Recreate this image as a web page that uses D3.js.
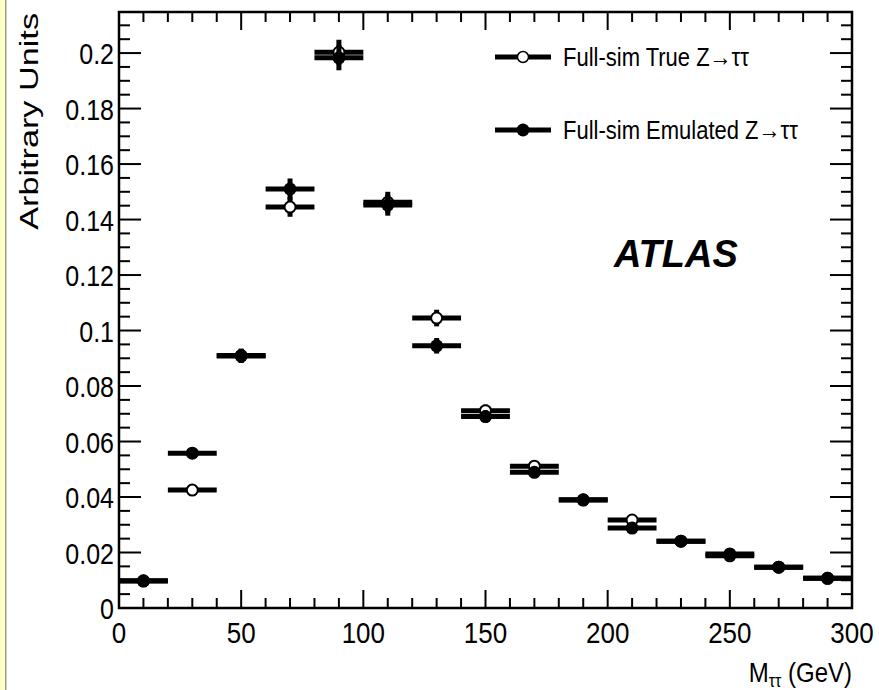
<!DOCTYPE html>
<html lang="en">
<head>
    <style>
        body { margin: 0; background: #fff; }
        text { font-family: "Liberation Sans", Arial, sans-serif; fill: #000; }
    </style>
    <script src="https://d3js.org/d3.v7.min.js"></script>
</head>
<body>
    <svg width="879" height="690"></svg>
    <script>
        // bin centres (GeV), 20 GeV wide bins
        var binCenters = [10, 30, 50, 70, 90, 110, 130, 150, 170, 190, 210, 230, 250, 270, 290];
        var binHalfWidth = 10;

        var trueValues = [0.0098, 0.0425, 0.0910, 0.1445, 0.2003, 0.1462, 0.1045, 0.0711, 0.0511, 0.0390, 0.0317, 0.0241, 0.0188, 0.0147, 0.0107];
        var trueErrors = [0.0008, 0.0018, 0.0025, 0.0035, 0.0045, 0.0038, 0.0030, 0.0022, 0.0018, 0.0015, 0.0013, 0.0011, 0.0010, 0.0008, 0.0007];

        var emuValues = [0.0097, 0.0558, 0.0908, 0.1510, 0.1983, 0.1452, 0.0945, 0.0690, 0.0489, 0.0389, 0.0288, 0.0241, 0.0195, 0.0147, 0.0107];
        var emuErrors = [0.0008, 0.0020, 0.0025, 0.0038, 0.0045, 0.0038, 0.0028, 0.0022, 0.0018, 0.0015, 0.0013, 0.0011, 0.0010, 0.0008, 0.0007];

        var xTicks = [0, 50, 100, 150, 200, 250, 300];
        var yTicks = [0, 0.02, 0.04, 0.06, 0.08, 0.1, 0.12, 0.14, 0.16, 0.18, 0.2];
        var yTickLabels = ["0", "0.02", "0.04", "0.06", "0.08", "0.1", "0.12", "0.14", "0.16", "0.18", "0.2"];

        var svg = d3.select("svg");

        // the picture's text is drawn a little taller than wide
        function addText(parent, px, py, str, size, sy, anchor) {
            return parent.append("g")
                .attr("transform", "translate(" + px + "," + py + ") scale(1," + sy + ")")
                .append("text")
                .attr("text-anchor", anchor || "start")
                .attr("font-size", size + "px")
                .text(str);
        }

        // yellowish strip on the left edge
        svg.append("rect").attr("x", 0).attr("y", 0).attr("width", 5).attr("height", 690).attr("fill", "#ffffc8");
        svg.append("rect").attr("x", 5).attr("y", 0).attr("width", 1.5).attr("height", 690).attr("fill", "#9a9a8a");

        var pLeft = 119, pRight = 852, pTop = 12, pBottom = 608;

        var x = d3.scaleLinear().domain([0, 300]).range([pLeft, pRight]);
        var y = d3.scaleLinear().domain([0, 0.2148]).range([pBottom, pTop]);

        var g = svg.append("g");

        // minor / major ticks, left + right
        var yMinor = d3.range(0, 0.2149, 0.005);
        yMinor.forEach(function(v) {
            var major = Math.abs(v / 0.02 - Math.round(v / 0.02)) < 1e-6;
            var len = major ? 22 : 11;
            g.append("line").attr("x1", pLeft).attr("x2", pLeft + len)
                .attr("y1", y(v)).attr("y2", y(v)).attr("stroke", "#000").attr("stroke-width", 2);
            g.append("line").attr("x1", pRight).attr("x2", pRight - len)
                .attr("y1", y(v)).attr("y2", y(v)).attr("stroke", "#000").attr("stroke-width", 2);
        });

        var xMinor = d3.range(0, 301, 10);
        xMinor.forEach(function(v) {
            var major = v % 50 === 0;
            var len = major ? 18 : 10;
            g.append("line").attr("x1", x(v)).attr("x2", x(v))
                .attr("y1", pBottom).attr("y2", pBottom - len).attr("stroke", "#000").attr("stroke-width", 2);
            g.append("line").attr("x1", x(v)).attr("x2", x(v))
                .attr("y1", pTop).attr("y2", pTop + len).attr("stroke", "#000").attr("stroke-width", 2);
        });

        // frame
        g.append("rect").attr("x", pLeft).attr("y", pTop).attr("width", pRight - pLeft).attr("height", pBottom - pTop)
            .attr("fill", "none").attr("stroke", "#000").attr("stroke-width", 2.5);

        // tick labels
        yTicks.forEach(function(d, i) {
            addText(g, pLeft - 5, y(d) + 11, yTickLabels[i], 25, 1.16, "end");
        });
        xTicks.forEach(function(d) {
            addText(g, x(d), 643, String(d), 26, 1.14, "middle");
        });

        // axis titles
        svg.append("g")
            .attr("transform", "translate(38,13) rotate(-90) scale(1.37,1)")
            .append("text")
            .attr("text-anchor", "end")
            .attr("font-size", "25px")
            .text("Arbitrary Units");

        var xt = svg.append("g")
            .attr("transform", "translate(" + pRight + ",682) scale(1,1.18)")
            .append("text")
            .attr("text-anchor", "end")
            .attr("font-size", "24px");
        xt.append("tspan").text("M");
        xt.append("tspan").attr("font-size", "16px").attr("dy", 4).text("ττ");
        xt.append("tspan").attr("dy", -4).text(" (GeV)");

        // data series
        function drawSeries(values, errors, open) {
            var s = g.append("g");
            s.selectAll(".hbar").data(values).enter().append("line")
                .attr("x1", function(d, i) { return x(binCenters[i] - binHalfWidth); })
                .attr("x2", function(d, i) { return x(binCenters[i] + binHalfWidth); })
                .attr("y1", function(d) { return y(d); })
                .attr("y2", function(d) { return y(d); })
                .attr("stroke", "#000").attr("stroke-width", 5);
            s.selectAll(".vbar").data(values).enter().append("line")
                .attr("x1", function(d, i) { return x(binCenters[i]); })
                .attr("x2", function(d, i) { return x(binCenters[i]); })
                .attr("y1", function(d, i) { return y(d - errors[i]); })
                .attr("y2", function(d, i) { return y(d + errors[i]); })
                .attr("stroke", "#000").attr("stroke-width", 5);
            s.selectAll(".mk").data(values).enter().append("circle")
                .attr("cx", function(d, i) { return x(binCenters[i]); })
                .attr("cy", function(d) { return y(d); })
                .attr("r", open ? 5.5 : 6.5)
                .attr("fill", open ? "#fff" : "#000")
                .attr("stroke", "#000")
                .attr("stroke-width", open ? 2 : 0);
        }
        drawSeries(trueValues, trueErrors, true);
        drawSeries(emuValues, emuErrors, false);

        // legend
        var legend = [
            { label: "Full-sim True Z\u2192\u03c4\u03c4", open: true, y: 57 },
            { label: "Full-sim Emulated Z\u2192\u03c4\u03c4", open: false, y: 130 }
        ];
        legend.forEach(function(l) {
            svg.append("line").attr("x1", 495).attr("x2", 551).attr("y1", l.y).attr("y2", l.y)
                .attr("stroke", "#000").attr("stroke-width", 5);
            svg.append("circle").attr("cx", 523).attr("cy", l.y).attr("r", l.open ? 5.5 : 6.5)
                .attr("fill", l.open ? "#fff" : "#000").attr("stroke", "#000").attr("stroke-width", l.open ? 1.5 : 0);
            addText(svg, 563, l.y + 9, l.label, 22, 1.16, "start");
        });

        svg.append("text")
            .attr("x", 614).attr("y", 267)
            .attr("font-size", "38px")
            .attr("font-weight", "bold")
            .attr("font-style", "italic")
            .text("ATLAS");
    </script>
</body>
</html>
